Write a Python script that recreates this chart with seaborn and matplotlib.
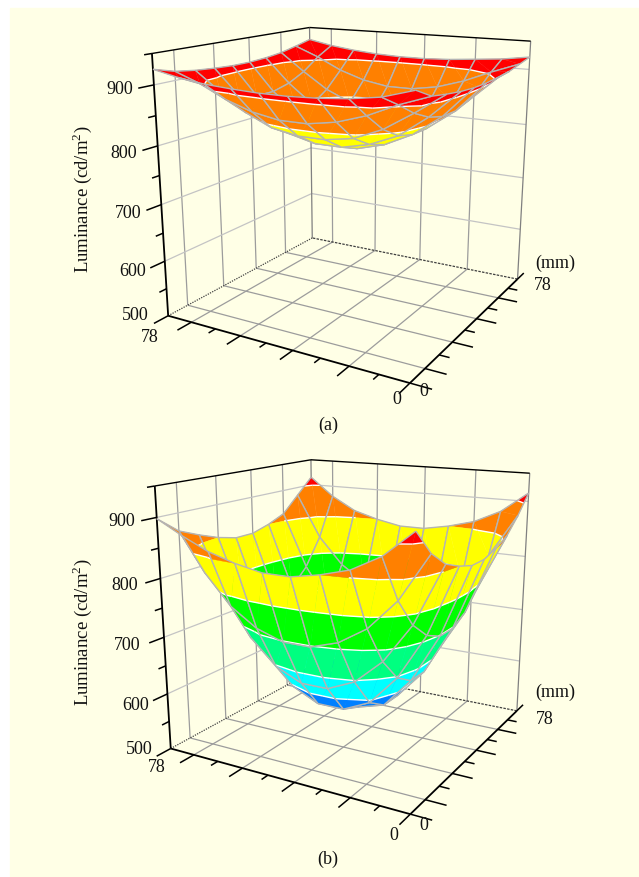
import numpy as np
import matplotlib
matplotlib.use("Agg")
import matplotlib.pyplot as plt
import seaborn as sns
from mpl_toolkits.mplot3d import proj3d
from mpl_toolkits.mplot3d.art3d import Poly3DCollection, Line3DCollection

W, H = 639, 877

grid_mm = [0, 8.67, 17.33, 26, 34.67, 43.33, 52, 60.67, 69.33, 78]
tick_mm = [8.67, 17.33, 26, 34.67, 43.33, 52, 60.67, 69.33]
x_major = [8.67, 26, 43.33, 60.67]
y_major = [17.33, 34.67, 52, 69.33]
z_major = [600, 700, 800, 900]
z_minor = [550, 650, 750, 850, 950]

lum_a = [
    [932, 916, 911, 907, 905, 905, 907, 910, 916, 922],
    [918, 899, 878, 863, 855, 855, 863, 878, 898, 915],
    [911, 878, 848, 828, 820, 820, 828, 848, 878, 911],
    [907, 863, 828, 808, 797, 797, 808, 828, 863, 907],
    [905, 855, 820, 797, 784, 784, 797, 820, 855, 905],
    [905, 855, 820, 797, 784, 784, 797, 820, 855, 905],
    [907, 863, 828, 808, 797, 797, 808, 828, 863, 907],
    [910, 878, 848, 828, 820, 820, 828, 848, 878, 911],
    [916, 899, 878, 863, 855, 855, 863, 878, 900, 917],
    [925, 915, 910, 907, 905, 905, 907, 911, 918, 926],
]
lum_b = [
    [920, 880, 855, 842, 833, 833, 842, 855, 882, 915],
    [880, 805, 755, 725, 710, 710, 725, 755, 805, 878],
    [855, 755, 688, 645, 624, 624, 645, 688, 755, 855],
    [842, 725, 645, 592, 570, 570, 592, 645, 725, 842],
    [833, 710, 624, 570, 556, 556, 570, 624, 710, 833],
    [833, 710, 624, 570, 556, 556, 570, 624, 710, 833],
    [842, 725, 645, 592, 570, 570, 592, 645, 725, 842],
    [855, 755, 688, 645, 624, 624, 645, 688, 755, 855],
    [875, 805, 755, 725, 710, 710, 725, 755, 805, 880],
    [898, 870, 855, 842, 833, 833, 842, 855, 885, 915],
]
levels_a = [836, 895]
levels_b = [598, 648, 712, 776, 842, 900]
colors_a = ["#ffff00", "#ff8000", "#ff0000"]
colors_b = ["#0080ff", "#00ffff", "#00ff80", "#00ff00", "#ffff00", "#ff8000", "#ff0000"]

# camera: elev, azim, dist, z aspect, y aspect, px per unit, px offset x, px offset y
camera_a = [15.609, -149.875, 3.633, 0.981, 1.009, 867.808, 351.659, 176.741]
camera_b = [15.578, -150.156, 3.674, 0.982, 0.998, 873.335, 352.766, 608.917]

sns.set_theme(style="white")
plt.rcParams["font.family"] = ["Liberation Serif", "DejaVu Serif"]
plt.rcParams["mathtext.fontset"] = "custom"
plt.rcParams["mathtext.rm"] = "Liberation Serif"

fig = plt.figure(figsize=(W / 100, H / 100), dpi=100, facecolor="white")
fig.patches.append(plt.Rectangle((10 / W, 0), 1, (H - 8) / H, transform=fig.transFigure, color="#ffffe6", zorder=-5))


def clip_band(tri, lo, hi):
    poly = tri
    for lim, keep_above in ((lo, True), (hi, False)):
        out = []
        for a, b in zip(poly, poly[1:] + poly[:1]):
            ina = a[2] >= lim if keep_above else a[2] <= lim
            inb = b[2] >= lim if keep_above else b[2] <= lim
            if ina:
                out.append(a)
            if ina != inb:
                t = (lim - a[2]) / (b[2] - a[2])
                out.append(tuple(a[n] + t * (b[n] - a[n]) for n in range(3)))
        poly = out
        if not poly:
            return []
    return poly


def contour_seg(tri, lev):
    pts = []
    for a, b in zip(tri, tri[1:] + tri[:1]):
        if (a[2] - lev) * (b[2] - lev) < 0:
            t = (lev - a[2]) / (b[2] - a[2])
            pts.append(tuple(a[n] + t * (b[n] - a[n]) for n in range(3)))
    return pts if len(pts) == 2 else None


def line(ax, xs, ys, zs, color, lw=0.9, z=1, ls="-"):
    ax.plot(xs, ys, zs, color=color, lw=lw, zorder=z, ls=ls, solid_capstyle="butt")


def draw_panel(cam, lum, levels, colors, labels):
    ax = fig.add_axes([0, 0, 1, 1], projection="3d", computed_zorder=False)
    ax.set_xlim(0, 78)
    ax.set_ylim(0, 78)
    ax.set_zlim(500, 950)
    ax.view_init(elev=cam[0], azim=cam[1])
    ax._dist = cam[2]
    ax.set_box_aspect((1, cam[4], cam[3]))
    s, tx, ty = cam[5:]
    side = s * 0.9
    left = tx - s * 0.45
    top = ty - s * 0.45
    ax.set_position([left / W, 1 - (top + side) / H, side / W, side / H])
    ax.set_axis_off()
    ax.patch.set_alpha(0)

    # walls and floor
    wall_h = "#c4c4c4"
    wall_v = "#9c9c9c"
    for v in x_major:
        line(ax, [v, v], [78, 78], [500, 950], wall_v)
        line(ax, [v, v], [0, 78], [500, 500], wall_v)
    for v in y_major:
        line(ax, [78, 78], [v, v], [500, 950], wall_v)
        line(ax, [0, 78], [v, v], [500, 500], wall_v)
    for zv in z_major:
        line(ax, [0, 78], [78, 78], [zv, zv], wall_h)
        line(ax, [78, 78], [0, 78], [zv, zv], wall_h)
    line(ax, [78, 78], [78, 78], [500, 950], "#808080")
    line(ax, [78, 78], [0, 0], [500, 950], "#808080")
    line(ax, [0, 78], [78, 78], [500, 500], "#404040", ls=(0, (1, 1)))
    line(ax, [78, 78], [0, 78], [500, 500], "#404040", ls=(0, (2, 1)))
    # black frame
    line(ax, [0, 78], [0, 0], [500, 500], "black", 1.3, 3)
    line(ax, [0, 0], [0, 78], [500, 500], "black", 1.3, 3)
    line(ax, [0, 0], [78, 78], [500, 950], "black", 1.3, 3)
    line(ax, [0, 78], [78, 78], [950, 950], "black", 1.0, 3)
    line(ax, [78, 78], [78, 0], [950, 950], "black", 1.0, 3)
    # ticks
    for v in tick_mm:
        line(ax, [v, v], [0, -6 if v in x_major else -3], [500, 500], "black", 1.1, 3)
        line(ax, [0, -6 if v in y_major else -3], [v, v], [500, 500], "black", 1.1, 3)
    for zv in z_major + [500]:
        line(ax, [0, -6], [78, 78], [zv, zv], "black", 1.1, 3)
    for zv in z_minor:
        line(ax, [0, -3], [78, 78], [zv, zv], "black", 1.1, 3)
    line(ax, [78, 84], [0, 0], [500, 500], "black", 1.1, 3)
    line(ax, [0, 0], [0, -6], [500, 500], "black", 1.1, 3)
    line(ax, [0, -6], [0, 0], [500, 500], "black", 1.1, 3)

    # surface, one cell at a time from back to front
    M = ax.get_proj()
    xs = np.array(grid_mm)
    Z = np.array(lum, float)
    edges = [-np.inf] + list(levels) + [np.inf]
    cells = []
    for j in range(9):
        for i in range(9):
            _, _, tz = proj3d.proj_transform(
                np.array([xs[i:i + 2].mean()]), np.array([xs[j:j + 2].mean()]),
                np.array([Z[j:j + 2, i:i + 2].mean()]), M)
            cells.append((tz[0], i, j))
    cells.sort(reverse=True)
    for n, (_, i, j) in enumerate(cells):
        a = (xs[i], xs[j], Z[j, i])
        b = (xs[i + 1], xs[j], Z[j, i + 1])
        c = (xs[i + 1], xs[j + 1], Z[j + 1, i + 1])
        d = (xs[i], xs[j + 1], Z[j + 1, i])
        polys, cols, segs = [], [], []
        for tri in ([a, b, c], [a, c, d]):
            for k, col in enumerate(colors):
                part = clip_band(tri, edges[k], edges[k + 1])
                if len(part) >= 3:
                    polys.append(part)
                    cols.append(col)
            for lev in levels:
                sg = contour_seg(tri, lev)
                if sg:
                    segs.append(sg)
        fill = Poly3DCollection(polys, facecolors=cols, edgecolors=cols, linewidths=0.25, zorder=10 + 3 * n)
        ax.add_collection3d(fill)
        if segs:
            ax.add_collection3d(Line3DCollection(segs, colors="white", linewidths=1.0, zorder=11 + 3 * n))
        ax.add_collection3d(Line3DCollection([[a, b], [b, c], [c, d], [d, a]], colors="#b4b4b4",
                                             linewidths=1.0, zorder=12 + 3 * n))
    # wide 2d window so nothing gets cut by the axes box
    ax.viewLim.intervalx = (-0.45, 0.45)
    ax.viewLim.intervaly = (-0.45, 0.45)
    for txt, px, py, rot in labels:
        fig.text(px / W, 1 - py / H, txt, ha="center", va="center", rotation=rot,
                 fontsize=13.5 if rot else 13, color="#111111")


labels_a = [("900", 120, 90, 0), ("800", 124, 153, 0), ("700", 128, 213, 0), ("600", 133, 271, 0), ("500", 135, 316, 0),
            ("78", 150, 337, 0), ("0", 397, 399, 0), ("0", 424, 392, 0), ("78", 543, 285, 0), ("(mm)", 555, 263, 0),
            ("(a)", 328, 425, 0), ("Luminance (cd/m$^2$)", 82, 199, 90)]
labels_b = [("900", 122, 522, 0), ("800", 125, 585, 0), ("700", 127, 645, 0), ("600", 136, 705, 0), ("500", 139, 750, 0),
            ("78", 157, 767, 0), ("0", 394, 836, 0), ("0", 424, 825, 0), ("78", 545, 719, 0), ("(mm)", 555, 692, 0),
            ("(b)", 328, 859, 0), ("Luminance (cd/m$^2$)", 82, 632, 90)]

draw_panel(camera_a, lum_a, levels_a, colors_a, labels_a)
draw_panel(camera_b, lum_b, levels_b, colors_b, labels_b)
fig.savefig("out.png", dpi=100)
